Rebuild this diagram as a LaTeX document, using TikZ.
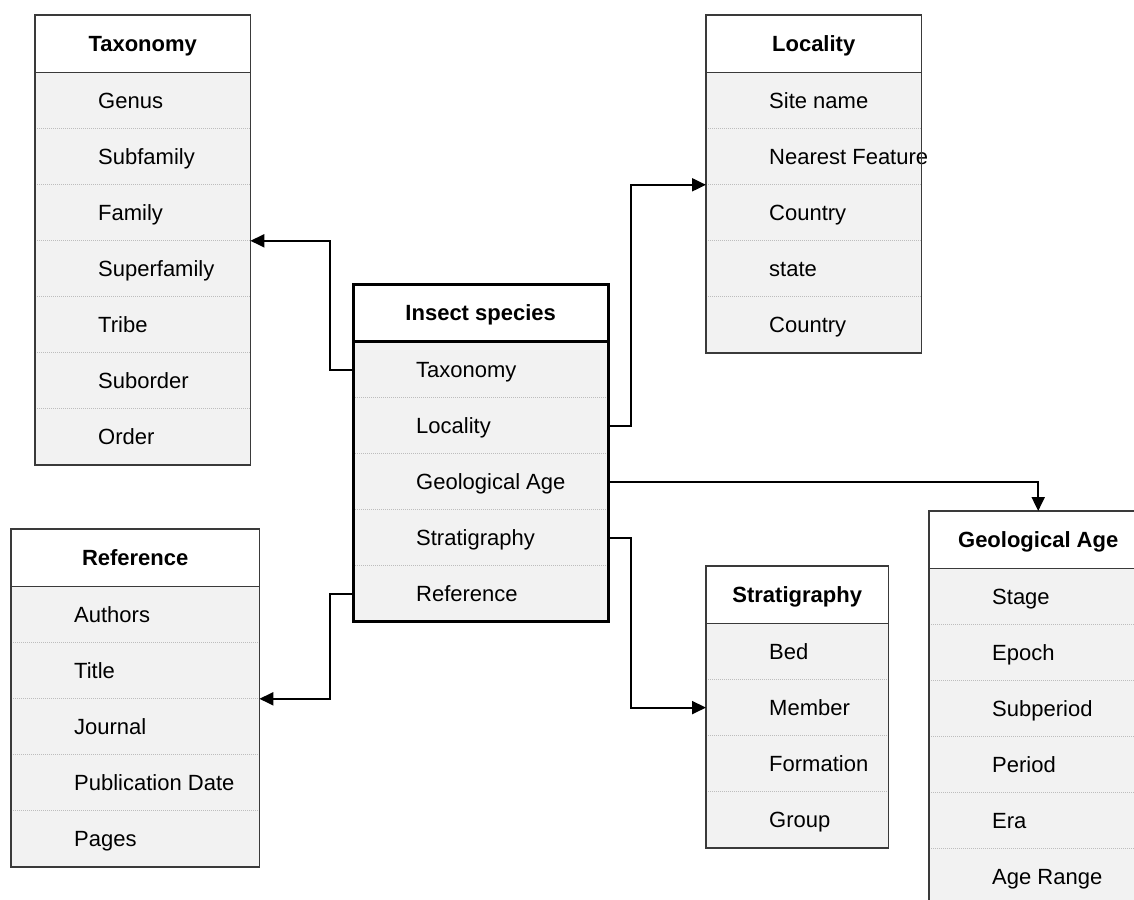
\documentclass[tikz,border=0pt]{standalone}
\usepackage{fontspec}
\setmainfont{Liberation Sans}
\usetikzlibrary{arrows.meta}
\definecolor{rowgray}{HTML}{F2F2F2}
\definecolor{framegray}{HTML}{3A3A3A}
\definecolor{sepgray}{HTML}{BDBDBD}
\tikzset{
  hdr/.style={anchor=north west, minimum height=57pt, inner sep=0pt, text height=16pt, text depth=0pt,
    font=\fontsize{22}{26}\selectfont\bfseries, fill=white},
  rowcell/.style={anchor=north west, minimum height=56pt, inner sep=0pt, text height=16pt, text depth=0pt,
    fill=rowgray, font=\fontsize{22}{26}\selectfont},
  sep/.style={sepgray, line width=1pt, dash pattern=on 1pt off 1pt},
  frame/.style={framegray, line width=1.5pt},
  thickframe/.style={black, line width=3pt},
  conn/.style={black, line width=2pt, -{Triangle[length=14pt,width=13pt]}},
}
\newcommand{\ertable}[7]{%
  \node[hdr, minimum width=#4pt] (#1) at (#2,#3) {#5};
  \foreach \t [count=\i] in {#6} {
    \node[rowcell, minimum width=#4pt, yshift={-56*(\i-1)}] (#1\i) at (#1.south west)
      {\makebox[#4pt][l]{\hspace*{63pt}\t}};
    \ifnum\i>1 \draw[sep] (#1\i.north west) -- (#1\i.north east);\fi
    \xdef\lastrow{\i}
  }
  \draw[#7] (#1.south west) -- (#1.south east);
  \draw[#7] (#1.north west) rectangle (#1\lastrow.south east);
}
\begin{document}
\begin{tikzpicture}[x=1pt,y=-1pt]
  \path[use as bounding box] (0,0) rectangle (1134,899);
  \clip (0,0) rectangle (1134,899);
  \ertable{tax}{35}{15}{215}{Taxonomy}{Genus,Subfamily,Family,Superfamily,Tribe,Suborder,Order}{frame}
  \ertable{loc}{706}{15}{215}{Locality}{Site name,Nearest Feature,Country,state,Country}{frame}
  \ertable{ins}{353}{284}{255}{Insect species}{Taxonomy,Locality,Geological Age,Stratigraphy,Reference}{thickframe}
  \ertable{ref}{11}{529}{248}{Reference}{Authors,Title,Journal,Publication Date,Pages}{frame}
  \ertable{str}{706}{566}{182}{Stratigraphy}{Bed,Member,Formation,Group}{frame}
  \ertable{geo}{929}{511}{218}{Geological Age}{Stage,Epoch,Subperiod,Period,Era,Age Range}{frame}
  \draw[conn] (ins1.west) -- ++(-23,0) |- (tax3.south east);
  \draw[conn] (ins2.east) -- ++(23,0) |- (loc2.south west);
  \draw[conn] (ins3.east) -| (geo.north);
  \draw[conn] (ins4.east) -- ++(23,0) |- (str2.west);
  \draw[conn] (ins5.west) -- ++(-23,0) |- (ref2.south east);
\end{tikzpicture}
\end{document}
